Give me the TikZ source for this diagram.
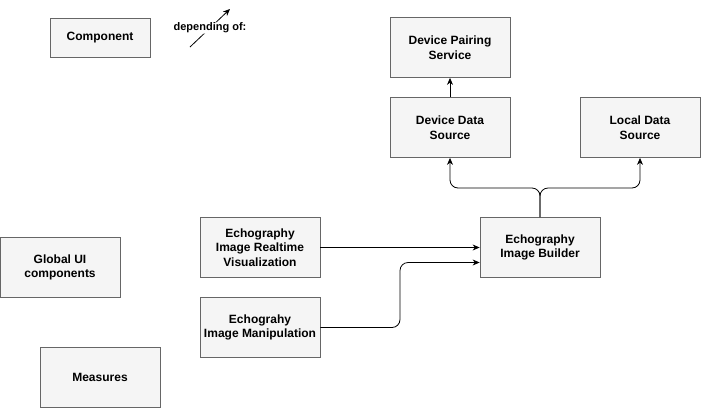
\documentclass[tikz,border=0pt]{standalone}
\usepackage{fontspec}
\setmainfont{Liberation Sans}
\usetikzlibrary{arrows.meta}
\definecolor{boxfill}{HTML}{F5F5F5}
\definecolor{boxline}{HTML}{666666}
\begin{document}
\begin{tikzpicture}[x=1pt,y=-1pt,
  box/.style={draw=boxline,fill=boxfill,line width=0.8pt,minimum width=120pt,minimum height=60pt,align=center,font=\fontsize{12}{14.5}\selectfont\bfseries,inner sep=2pt},
  conn/.style={draw=black,line width=0.8pt,-{Stealth[length=7pt,width=6pt]},rounded corners=8pt}]
\useasboundingbox (0,0) rectangle (701,408);
\node[box,minimum width=100pt,minimum height=39pt] (comp) at (100,37.5) {Component};
\node[box] (dps) at (450,47.5) {Device Pairing\\Service};
\node[box] (dds) at (450,127.5) {Device Data\\Source};
\node[box] (lds) at (640,127.5) {Local Data\\Source};
\node[box] (eib) at (540,247.5) {Echography\\Image Builder};
\node[box] (eirv) at (260,247.5) {Echography\\Image Realtime\\Visualization};
\node[box] (eim) at (260,327.5) {Echograhy\\Image Manipulation};
\node[box] (gui) at (60,267.5) {Global UI\\components};
\node[box] (meas) at (100,377.5) {Measures};
\coordinate (da) at (190,47);
\coordinate (db) at (230,9);
\draw[conn] (da) -- (db) node[midway,fill=white,inner sep=0.5pt,font=\fontsize{11}{13}\selectfont\bfseries] (dlab) {depending of:};
\draw[conn] (dds.north) -- (dps.south);
\draw[conn] (eib.north) -- (540,188) -| (dds.south);
\draw[conn] (eib.north) -- (540,188) -| (lds.south);
\draw[conn] (eirv.east) -- (eib.west);
\draw[conn] (eim.east) -- (400,327.5) |- ([yshift=-15pt]eib.west);
\end{tikzpicture}
\end{document}
